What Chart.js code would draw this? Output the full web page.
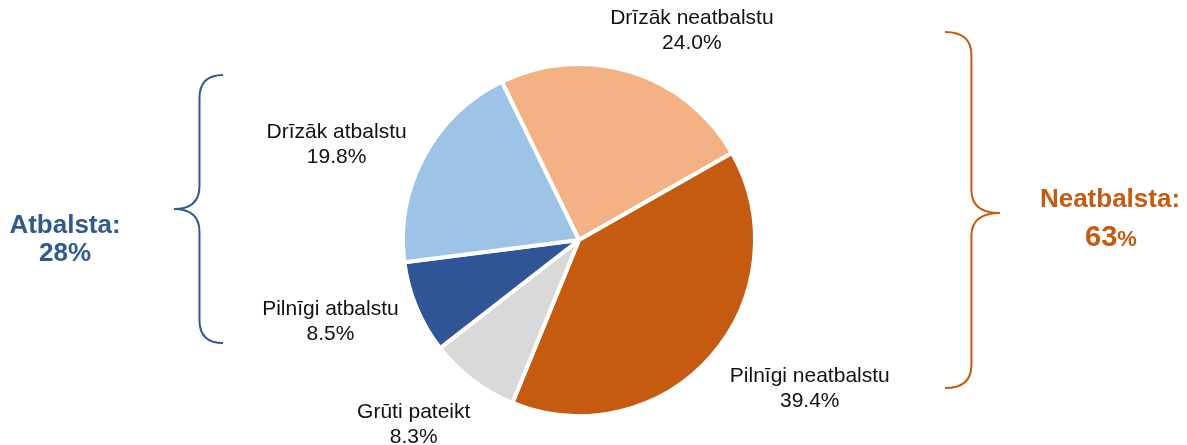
<!DOCTYPE html>
<html>
<head>
<meta charset="utf-8">
<script src="https://cdn.jsdelivr.net/npm/chart.js@4"></script>
<style>
  html, body { margin: 0; padding: 0; background: #fff; }
  #wrap { width: 1187px; height: 445px; position: relative; }
</style>
</head>
<body>
<div id="wrap"><canvas id="pieChart"></canvas></div>
<script>
// ================== DATA ==================
const categories = ["Drīzāk neatbalstu", "Pilnīgi neatbalstu", "Grūti pateikt", "Pilnīgi atbalstu", "Drīzāk atbalstu"];
const shares = [24.0, 39.4, 8.3, 8.5, 19.8];
const sliceColors = ["#F4B183", "#C55A11", "#D9D9D9", "#2F5597", "#9DC3E6"];
const groupLabels = ["Atbalsta:", "Neatbalsta:"];
const groupValues = ["28", "63"];

const BLUE = "#2E5B8B";
const ORANGE = "#C55A11";

// small hand nudges for the outside labels (px), like Excel moved them
const labelNudge = [[29, 8], [19, -1], [-9, 4], [1, -5], [-3, 13]];

// ================== LABELS PLUGIN ==================
const outsideLabels = {
  id: "outsideLabels",
  afterDatasetsDraw(chart) {
    const ctx = chart.ctx;
    const meta = chart.getDatasetMeta(0);
    ctx.save();
    ctx.font = "21px 'Liberation Sans', Arial, sans-serif";
    ctx.fillStyle = "#111";
    ctx.textAlign = "center";
    ctx.textBaseline = "middle";
    meta.data.forEach((arc, i) => {
      const p = arc.getProps(["x", "y", "startAngle", "endAngle", "outerRadius"], true);
      const mid = (p.startAngle + p.endAngle) / 2;
      const dx = Math.cos(mid), dy = Math.sin(mid);
      const line1 = categories[i];
      const line2 = shares[i].toFixed(1) + "%";
      const w = Math.max(ctx.measureText(line1).width, ctx.measureText(line2).width);
      const h = 50;
      const r = p.outerRadius + 26;
      const cx = p.x + dx * r + dx * w / 2 + labelNudge[i][0];
      const cy = p.y + dy * r + dy * h / 2 + labelNudge[i][1];
      ctx.fillText(line1, cx, cy - 12.5);
      ctx.fillText(line2, cx, cy + 12.5);
    });
    ctx.restore();
  }
};

// ================== BRACES + GROUP TOTALS ==================
function brace(ctx, x0, top, bottom, tipX, tipY, color) {
  // x0 = ends of the brace, vertical spine half-way to tip
  const spine = x0 + (tipX - x0) * 0.48;
  const c = 23;
  ctx.beginPath();
  ctx.moveTo(x0, top);
  ctx.quadraticCurveTo(spine, top, spine, top + c);
  ctx.lineTo(spine, tipY - c);
  ctx.quadraticCurveTo(spine, tipY, tipX, tipY);
  ctx.quadraticCurveTo(spine, tipY, spine, tipY + c);
  ctx.lineTo(spine, bottom - c);
  ctx.quadraticCurveTo(spine, bottom, x0, bottom);
  ctx.strokeStyle = color;
  ctx.lineWidth = 2;
  ctx.stroke();
}

const groupsPlugin = {
  id: "groups",
  afterDraw(chart) {
    const ctx = chart.ctx;
    ctx.save();
    brace(ctx, 223, 75, 343, 174, 209, BLUE);
    brace(ctx, 945, 32, 388, 1000, 213, ORANGE);

    ctx.textAlign = "center";
    ctx.textBaseline = "middle";
    ctx.font = "bold 26px 'Liberation Sans', Arial, sans-serif";
    ctx.fillStyle = BLUE;
    ctx.fillText(groupLabels[0], 65, 226);
    ctx.fillText(groupValues[0] + "%", 65, 254);

    ctx.fillStyle = ORANGE;
    ctx.fillText(groupLabels[1], 1110, 200);
    // bigger number, smaller percent sign
    ctx.font = "bold 29px 'Liberation Sans', Arial, sans-serif";
    const nw = ctx.measureText(groupValues[1]).width;
    ctx.font = "bold 22px 'Liberation Sans', Arial, sans-serif";
    const pw = ctx.measureText("%").width;
    const startX = 1111 - (nw + pw) / 2;
    ctx.textAlign = "left";
    ctx.textBaseline = "alphabetic";
    ctx.font = "bold 29px 'Liberation Sans', Arial, sans-serif";
    ctx.fillText(groupValues[1], startX, 246);
    ctx.font = "bold 22px 'Liberation Sans', Arial, sans-serif";
    ctx.fillText("%", startX + nw, 246);
    ctx.restore();
  }
};

// ================== CHART ==================
const ctx = document.getElementById("pieChart");
new Chart(ctx, {
  type: "pie",
  data: {
    labels: categories,
    datasets: [
      {
        data: shares,
        backgroundColor: sliceColors,
        borderColor: "#ffffff",
        borderWidth: 4,
      },
    ],
  },
  options: {
    responsive: true,
    maintainAspectRatio: false,
    animation: false,
    rotation: -26,
    layout: { padding: { top: 62, bottom: 27, left: 401, right: 430 } },
    plugins: {
      legend: { display: false },
      tooltip: { enabled: false },
    },
  },
  plugins: [outsideLabels, groupsPlugin],
});
</script>
</body>
</html>
